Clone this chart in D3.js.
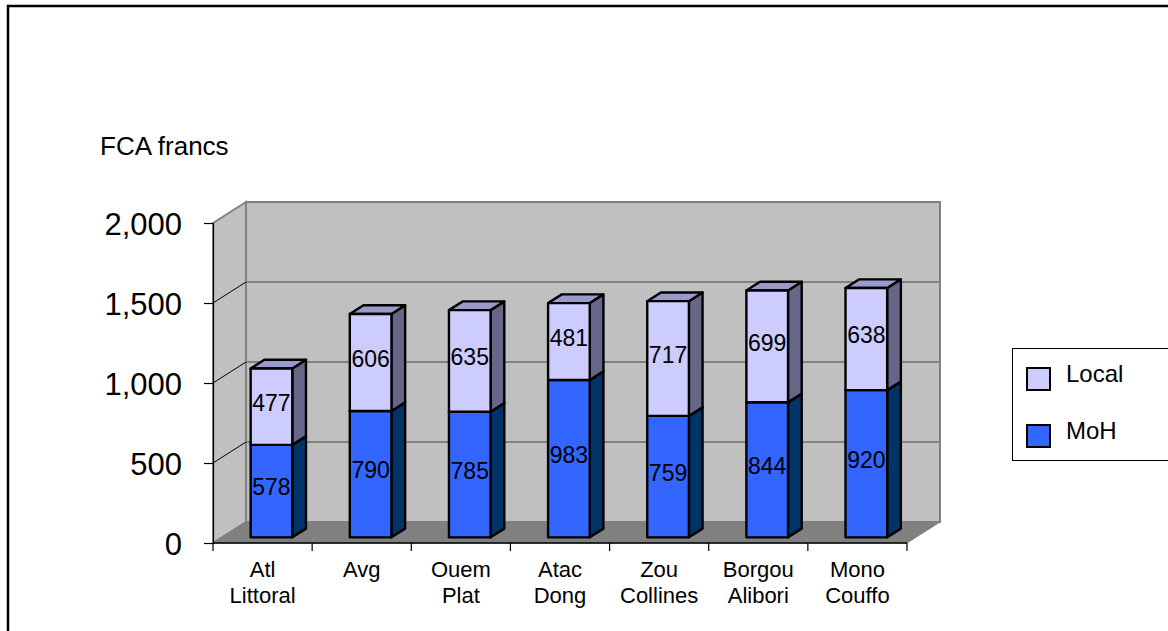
<!DOCTYPE html>
<html>
<head>
<meta charset="utf-8">
<script src="https://cdn.jsdelivr.net/npm/d3@7"></script>
<style>
  html, body { margin: 0; padding: 0; background: #fff; }
  svg { display: block; }
  text { font-family: "Liberation Sans", Arial, sans-serif; fill: #000; }
</style>
</head>
<body>
<svg id="chart" width="1168" height="631"></svg>
<script>
// Regional cost per unit, split by funding source (FCA francs)
const categories = ["Atl Littoral", "Avg", "Ouem Plat", "Atac Dong", "Zou Collines", "Borgou Alibori", "Mono Couffo"];
const mohValues   = [578, 790, 785, 983, 759, 844, 920];
const localValues = [477, 606, 635, 481, 717, 699, 638];
const seriesNames = ["MoH", "Local"];
const yTicks = [0, 500, 1000, 1500, 2000];

const svg = d3.select("#chart");

// Plot geometry: front plane and the oblique depth vector of the 3-D box
const plot = { left: 213, right: 907, bottom: 543, top: 223 };
const depth = [33, -21];
const barFront = 0.27, barBack = 0.685;   // bar placement inside the depth
const barWidthRatio = 0.42;

const x = d3.scaleBand().domain(categories).range([plot.left, plot.right]).padding(0);
const y = d3.scaleLinear().domain([0, 2000]).range([plot.bottom, plot.top]);

const colors = {
  MoH:   { front: "#3366ff", side: "#003366", top: "#2952cc" },
  Local: { front: "#ccccff", side: "#666688", top: "#9999cc" }
};

// Outer chart frame
svg.append("rect")
  .attr("x", 8).attr("y", 6).attr("width", 1200).attr("height", 700)
  .attr("fill", "none").attr("stroke", "#000").attr("stroke-width", 2.5);

// Walls and floor
const bx0 = plot.left + depth[0], bx1 = plot.right + depth[0];
const by0 = plot.bottom + depth[1], by1 = plot.top + depth[1];
const pts = a => a.map(p => p.join(",")).join(" ");

svg.append("polygon")  // side wall
  .attr("points", pts([[plot.left, plot.top], [bx0, by1], [bx0, by0], [plot.left, plot.bottom]]))
  .attr("fill", "#c0c0c0").attr("stroke", "#808080").attr("stroke-width", 2);
svg.append("polygon")  // back wall
  .attr("points", pts([[bx0, by1], [bx1, by1], [bx1, by0], [bx0, by0]]))
  .attr("fill", "#c0c0c0").attr("stroke", "#808080").attr("stroke-width", 2);

// Gridlines on back wall and their diagonals on the side wall
const grid = svg.append("g");
yTicks.filter(v => v > 0 && v < 2000).forEach(v => {
  grid.append("line")
    .attr("x1", bx0).attr("x2", bx1)
    .attr("y1", y(v) + depth[1]).attr("y2", y(v) + depth[1])
    .attr("stroke", "#6e6e6e").attr("stroke-width", 1.3);
  grid.append("line")
    .attr("x1", plot.left).attr("y1", y(v))
    .attr("x2", bx0).attr("y2", y(v) + depth[1])
    .attr("stroke", "#000").attr("stroke-width", 1);
});

svg.append("polygon")  // floor
  .attr("points", pts([[plot.left, plot.bottom], [plot.right, plot.bottom], [bx1, by0], [bx0, by0]]))
  .attr("fill", "#808080").attr("stroke", "#808080").attr("stroke-width", 1);

// Y axis
const yAxis = d3.axisLeft(y)
  .tickValues(yTicks)
  .tickFormat(d3.format(","))
  .tickSize(9)
  .tickPadding(22);
const yg = svg.append("g").attr("transform", `translate(${plot.left},0)`).call(yAxis);
yg.select(".domain").attr("stroke", "#000").attr("stroke-width", 1.2);
yg.selectAll(".tick line").attr("stroke", "#000").attr("stroke-width", 1.2);
yg.selectAll(".tick text")
  .attr("font-size", 31).attr("font-family", "Liberation Sans, Arial, sans-serif")
  .attr("dy", "0.38em");

// X axis line and tick marks at category boundaries
svg.append("line")
  .attr("x1", plot.left).attr("x2", plot.right)
  .attr("y1", plot.bottom).attr("y2", plot.bottom)
  .attr("stroke", "#000").attr("stroke-width", 1.5);
const bounds = categories.map(c => x(c)).concat([x.range()[1]]);
svg.append("g").selectAll("line").data(bounds).join("line")
  .attr("x1", d => d).attr("x2", d => d)
  .attr("y1", plot.bottom).attr("y2", plot.bottom + 8)
  .attr("stroke", "#000").attr("stroke-width", 1.2);

// Category labels (two lines)
const catLabels = svg.append("g").selectAll("text").data(categories).join("text")
  .attr("text-anchor", "middle")
  .attr("font-size", 22)
  .attr("x", d => x(d) + x.bandwidth() / 2)
  .attr("y", 577);
catLabels.each(function (d) {
  const lines = d.split(" ");
  const t = d3.select(this);
  lines.forEach((ln, i) => {
    t.append("tspan")
      .attr("x", x(d) + x.bandwidth() / 2)
      .attr("dy", i === 0 ? 0 : 26)
      .text(ln);
  });
});

// Stacked 3-D bars
const stackData = categories.map((c, i) => ({ cat: c, MoH: mohValues[i], Local: localValues[i] }));
const stacked = d3.stack().keys(seriesNames)(stackData);

const bw = x.bandwidth() * barWidthRatio;
const fdx = depth[0] * barFront, fdy = depth[1] * barFront;
const ddx = depth[0] * (barBack - barFront), ddy = depth[1] * (barBack - barFront);

const bars = svg.append("g");
const labels = [];
categories.forEach((c, ci) => {
  const x0 = x(c) + x.bandwidth() / 2 - bw / 2 + fdx;
  const x1 = x0 + bw;
  stacked.forEach(layer => {
    const key = layer.key;
    const seg = layer[ci];
    const yb = y(seg[0]) + fdy, yt = y(seg[1]) + fdy;
    const col = colors[key];
    const g = bars.append("g").attr("stroke", "#000").attr("stroke-width", 2.4).attr("stroke-linejoin", "round");
    g.append("polygon")  // side face
      .attr("points", pts([[x1, yb], [x1 + ddx, yb + ddy], [x1 + ddx, yt + ddy], [x1, yt]]))
      .attr("fill", col.side);
    g.append("polygon")  // top face
      .attr("points", pts([[x0, yt], [x0 + ddx, yt + ddy], [x1 + ddx, yt + ddy], [x1, yt]]))
      .attr("fill", col.top);
    g.append("rect")     // front face
      .attr("x", x0).attr("y", yt).attr("width", bw).attr("height", yb - yt)
      .attr("fill", col.front);
    labels.push({ x: (x0 + x1) / 2, y: (yt + yb) / 2 - 4, v: seg.data[key] });
  });
});

svg.append("g").selectAll("text").data(labels).join("text")
  .attr("x", d => d.x).attr("y", d => d.y)
  .attr("dy", "0.36em")
  .attr("text-anchor", "middle")
  .attr("font-size", 23)
  .text(d => d.v);

// Axis title
svg.append("text")
  .attr("x", 100).attr("y", 155)
  .attr("font-size", 26)
  .text("FCA francs");

// Legend
const legend = svg.append("g");
legend.append("rect")
  .attr("x", 1012.5).attr("y", 348.5).attr("width", 200).attr("height", 112)
  .attr("fill", "#fff").attr("stroke", "#000").attr("stroke-width", 1);
const legendItems = ["Local", "MoH"];
legendItems.forEach((k, i) => {
  legend.append("rect")
    .attr("x", 1027).attr("y", 368 + i * 57).attr("width", 23).attr("height", 22)
    .attr("fill", colors[k].front).attr("stroke", "#000").attr("stroke-width", 2);
  legend.append("text")
    .attr("x", 1066).attr("y", 382 + i * 57)
    .attr("font-size", 24)
    .text(k);
});
</script>
</body>
</html>
